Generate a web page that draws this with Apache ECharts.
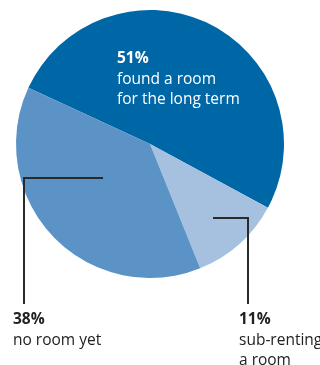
<!DOCTYPE html>
<html><head><meta charset="utf-8">
<script src="https://cdn.jsdelivr.net/npm/echarts@6/dist/echarts.min.js"></script>
<style>html,body{margin:0;padding:0;background:#fff}#c{width:320px;height:365px}</style>
</head><body><div id="c"></div>
<script>
const categories = ['found a room\nfor the long term', 'sub-renting\na room', 'no room yet'];
const values = [51, 11, 38];
const percentLabels = ['51%', '11%', '38%'];
const colors = ['#0067a7', '#a6c1e0', '#5b93c6'];

const chart = echarts.init(document.getElementById('c'), null, {renderer: 'canvas'});
const FONT = '"Open Sans", sans-serif';
const lineColor = '#2a2a2a';

function label(idx, x, y, color) {
  return {
    type: 'text', left: x, top: y, silent: true, z: 100,
    style: {
      text: '{b|' + percentLabels[idx] + '}\n{n|' + categories[idx].split('\n').join('}\n{n|') + '}',
      rich: {
        b: {fontFamily: FONT, fontWeight: 'bold', fontSize: 15.5, lineHeight: 20.5, fill: color},
        n: {fontFamily: FONT, fontSize: 15.5, lineHeight: 20.5, fill: color}
      }
    }
  };
}

chart.setOption({
  animation: false,
  series: [{
    type: 'pie',
    center: [150, 144],
    radius: [0, 134],
    startAngle: 155.2,
    clockwise: true,
    z: 2,
    label: {show: false},
    labelLine: {show: false},
    itemStyle: {borderWidth: 0},
    emphasis: {disabled: true},
    data: values.map((v, i) => ({value: v, name: categories[i], itemStyle: {color: colors[i]}}))
  }],
  graphic: [
    {type: 'polyline', silent: true, z: 100, shape: {points: [[103, 178], [24, 178], [24, 304]]}, style: {stroke: lineColor, lineWidth: 2, fill: null}},
    {type: 'polyline', silent: true, z: 100, shape: {points: [[213, 218], [248, 218], [248, 304]]}, style: {stroke: lineColor, lineWidth: 2, fill: null}},
    label(0, 117, 51, '#ffffff'),
    label(2, 13, 312, '#222222'),
    label(1, 239, 312, '#222222')
  ]
});
</script></body></html>
